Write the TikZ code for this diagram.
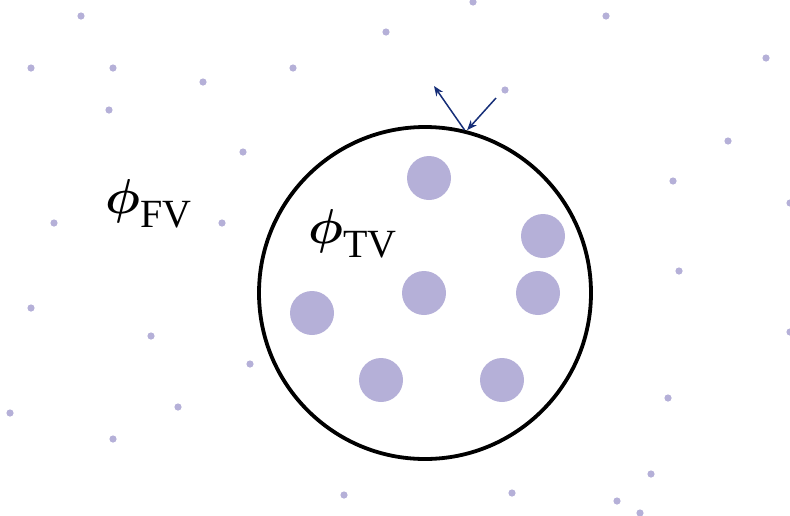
\documentclass[tikz,border=0pt]{standalone}
\usepackage{fontspec}
\setmainfont{Liberation Serif}
\usetikzlibrary{arrows.meta}
\definecolor{dotc}{RGB}{181,176,216}
\definecolor{arrc}{RGB}{22,46,120}
\newcommand{\bigphi}{\scalebox{4.9}{\boldmath$\phi$}}
\begin{document}
\begin{tikzpicture}[x=1pt,y=-1pt,
  smalldot/.style={fill=dotc},
  bigdot/.style={circle,fill=dotc,inner sep=0pt,minimum size=44pt},
  bubble/.style={circle,draw=black,line width=3.8pt,inner sep=0pt,minimum size=332pt},
  arr/.style={draw=arrc,line width=1.5pt,-{Stealth[length=10pt,width=8pt]}},
  lab/.style={anchor=base west,inner sep=0pt}]
\useasboundingbox (0,0) rectangle (790,515);
% small dots
\foreach \p in {(81,16),(31,68),(113,68),(203,82),(293,68),(109,110),(386,32),(243,152),(54,223),(222,223),
  (473,2),(606,16),(766,58),(505,90),(728,141),(673,181),(790,203),
  (31,308),(151,336),(250,364),(10,413),(178,407),(113,439),(344,495),
  (679,271),(790,332),(668,398),(651,474),(512,493),(617,501),(640,513)}
  \fill[smalldot] \p circle (3.6pt);
% bubble
\node[bubble] (bub) at (425,293) {};
% inner particles
\node[bigdot] (p1) at (429,178) {};
\node[bigdot] (p2) at (543,236) {};
\node[bigdot] (p3) at (424,293) {};
\node[bigdot] (p4) at (538,293) {};
\node[bigdot] (p5) at (312,313) {};
\node[bigdot] (p6) at (381,380) {};
\node[bigdot] (p7) at (502,380) {};
% arrows
\coordinate (hit) at (bub.76.7);
\coordinate (src) at (496,98);
\coordinate (refl) at (434,86);
\draw[arr] (src) -- ([xshift=1.5pt]hit);
\draw[arr] ([xshift=-1pt]hit) -- (refl);
% labels
\node[lab] (fv) at (105,213) {\bigphi\raisebox{-14pt}{\fontsize{40}{44}\selectfont FV}};
\node[lab] (tv) at (308,243) {\bigphi\raisebox{-14pt}{\fontsize{40}{44}\selectfont TV}};
\end{tikzpicture}
\end{document}
